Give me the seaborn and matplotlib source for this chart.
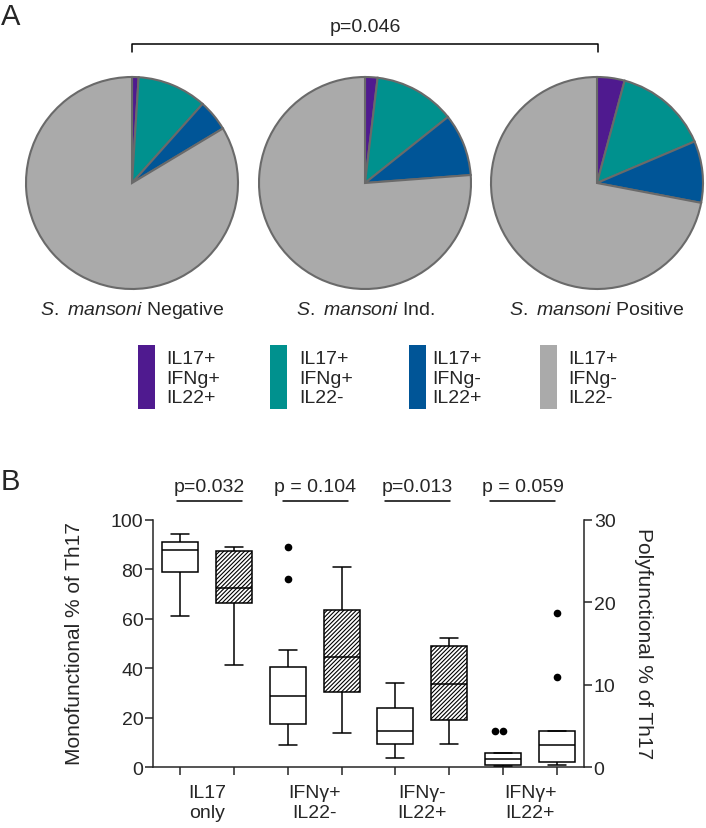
import matplotlib
matplotlib.use("Agg")
import matplotlib.pyplot as plt
import numpy as np
import pandas as pd
import seaborn as sns
from matplotlib.patches import Rectangle

# ---- panel A: Th17 subset shares per S. mansoni status ----
subset_labels = ["IL17+\nIFNg+\nIL22+", "IL17+\nIFNg+\nIL22-",
                 "IL17+\nIFNg-\nIL22+", "IL17+\nIFNg-\nIL22-"]
subset_colors = ["#4f1a8f", "#00918e", "#005597", "#aaaaaa"]
pie_titles = [r"$\it{S.\ mansoni}$ Negative", r"$\it{S.\ mansoni}$ Ind.",
              r"$\it{S.\ mansoni}$ Positive"]
pie_negative = [1.0, 10.6, 4.8, 83.6]
pie_ind = [1.9, 12.4, 9.5, 76.2]
pie_positive = [4.2, 14.4, 9.4, 72.0]
p_pies = "p=0.046"

# ---- panel B: monofunctional (left axis) / polyfunctional (right axis) ----
group_labels = ["IL17\nonly", "IFNγ+\nIL22-", "IFNγ-\nIL22+", "IFNγ+\nIL22+"]
p_values = ["p=0.032", "p = 0.104", "p=0.013", "p = 0.059"]
il17_neg = [61.1, 72.5, 78.9, 84.0, 87.8, 89.6, 90.8, 92.7, 94.2]
il17_pos = [41.5, 58.0, 66.5, 70.1, 72.3, 80.4, 87.2, 88.3, 89.1]
ifng_il22n_neg = [9.0, 12.6, 15.2, 17.4, 21.0, 25.3, 28.7, 33.0, 37.1, 40.6, 47.5, 76.0, 89.1]
ifng_il22n_pos = [13.7, 22.0, 30.6, 38.9, 44.4, 55.2, 63.5, 72.8, 81.0]
il22_neg = [3.8, 6.9, 9.4, 12.1, 14.8, 19.5, 23.8, 28.6, 33.9]
il22_pos = [9.3, 14.6, 19.2, 27.0, 33.5, 41.8, 49.1, 50.7, 52.2]
poly_neg = [0.20, 0.25, 0.28, 0.62, 1.01, 1.38, 1.70, 4.36, 4.36]
poly_pos = [0.32, 0.50, 0.69, 1.60, 2.70, 3.60, 4.44, 10.9, 18.7]

slots = ["il17_neg", "il17_pos", "ifng_neg", "ifng_pos",
         "il22_neg", "il22_pos", "poly_neg", "poly_pos"]
left_data = {"il17_neg": il17_neg, "il17_pos": il17_pos,
             "ifng_neg": ifng_il22n_neg, "ifng_pos": ifng_il22n_pos,
             "il22_neg": il22_neg, "il22_pos": il22_pos}
right_data = {"poly_neg": poly_neg, "poly_pos": poly_pos}
hatched = ["il17_pos", "ifng_pos", "il22_pos"]


def long_frame(d):
    rows = [(k, v) for k, vals in d.items() for v in vals]
    return pd.DataFrame(rows, columns=["slot", "value"])


def outliers(d):
    rows = []
    for k, vals in d.items():
        q1, q3 = np.percentile(vals, [25, 75])
        lo, hi = q1 - 1.5 * (q3 - q1), q3 + 1.5 * (q3 - q1)
        rows += [(k, v) for v in vals if v < lo or v > hi]
    return pd.DataFrame(rows, columns=["slot", "value"])


sns.set_style("ticks")
plt.rcParams["font.family"] = ["Liberation Sans", "DejaVu Sans"]
plt.rcParams["mathtext.fontset"] = "custom"
plt.rcParams["mathtext.rm"] = "Liberation Sans"
plt.rcParams["mathtext.it"] = "Liberation Sans:italic"
plt.rcParams["hatch.linewidth"] = 0.8
FS = 14

W, H = 706, 829
fig = plt.figure(figsize=(W / 100, H / 100), dpi=100)


def px_rect(x0, y0, x1, y1):
    return [x0 / W, 1 - y1 / H, (x1 - x0) / W, (y1 - y0) / H]


# pies
pie_centers = [132, 365, 597]
R, pad = 106, 4
for cx, vals in zip(pie_centers, [pie_negative, pie_ind, pie_positive]):
    pa = fig.add_axes(px_rect(cx - R - pad, 184 - R - pad, cx + R + pad, 184 + R + pad))
    pa.pie(vals, colors=subset_colors, startangle=90, counterclock=False,
           wedgeprops=dict(edgecolor="#6a6a6a", linewidth=1.5))
    lim = (R + pad) / R
    pa.set_xlim(-lim, lim)
    pa.set_ylim(-lim, lim)
    pa.set_aspect("auto")

# boxes
ax = fig.add_axes(px_rect(153, 520.7, 584, 768.3))
ax2 = ax.twinx()
box_kw = dict(x="slot", y="value", order=slots, color="white", saturation=1,
              linecolor="black", linewidth=1.1, width=0.67, showfliers=False)
sns.boxplot(data=long_frame(left_data), ax=ax, **box_kw)
for patch, slot in zip(ax.patches, left_data.keys()):
    if slot in hatched:
        patch.set_hatch("////////")
sns.boxplot(data=long_frame(right_data), ax=ax2, **box_kw)
sw_kw = dict(x="slot", y="value", order=slots, color="black", size=5.5)
sns.swarmplot(data=outliers(left_data), ax=ax, **sw_kw)
sns.swarmplot(data=outliers(right_data), ax=ax2, **sw_kw)

ax.set_xlim(-0.5, len(slots) - 0.5)
ax.set_ylim(0, 100)
ax2.set_ylim(0, 30)
ax.set_yticks(np.arange(0, 101, 20))
ax2.set_yticks(np.arange(0, 31, 10))
ax.set_xticks(np.arange(len(slots)))
ax.set_xticklabels([])
ax.set_xticks(np.arange(0.5, len(slots), 2), minor=True)
ax.set_xticklabels(group_labels, minor=True, fontsize=FS, linespacing=1.2)
ax.tick_params(axis="x", which="major", length=6, width=1.1, direction="out")
ax.tick_params(axis="x", which="minor", length=0, pad=12)
ax.tick_params(axis="y", length=6, width=1.1, pad=1, labelsize=FS)
ax2.tick_params(axis="y", length=6, width=1.1, pad=1, labelsize=FS)
ax.set_xlabel("")
ax.set_ylabel("")
ax2.set_xlabel("")
ax2.set_ylabel("")
for a in (ax, ax2):
    a.spines["top"].set_visible(False)
    for s in a.spines.values():
        s.set_linewidth(1.1)
ax.spines["right"].set_visible(False)
ax2.spines["left"].set_visible(False)
ax2.spines["bottom"].set_visible(False)

# overlay in pixel coordinates for annotations
ov = fig.add_axes([0, 0, 1, 1])
ov.set_xlim(0, W)
ov.set_ylim(H, 0)
ov.axis("off")
ov.text(1, 25, "A", fontsize=21, va="baseline")
ov.text(1, 490, "B", fontsize=21, va="baseline")
ov.plot([132, 132, 598, 598], [53, 45, 45, 53], color="black", lw=1.1)
ov.text(365, 27, p_pies, fontsize=FS, ha="center", va="center")
for cx, t in zip(pie_centers, pie_titles):
    ov.text(cx, 310, t, fontsize=FS, ha="center", va="center")
for bx, tx, col, lab in zip([138, 270, 409, 540], [166, 299, 432, 568],
                            subset_colors, subset_labels):
    ov.add_patch(Rectangle((bx, 346), 17, 64, color=col, lw=0))
    ov.text(tx, 379, lab, fontsize=FS, ha="left", va="center", linespacing=1.2)
for cx, t in zip([209.5, 315.5, 417.5, 522.5], p_values):
    ov.text(cx, 488, t, fontsize=FS, ha="center", va="center")
    ov.plot([cx - 32.5, cx + 32.5], [502, 502], color="black", lw=1.1)
ov.text(74, 644, "Monofunctional % of Th17", fontsize=15, rotation=90,
        ha="center", va="center")
ov.text(644, 644, "Polyfunctional % of Th17", fontsize=15, rotation=270,
        ha="center", va="center")

fig.savefig("out.png", dpi=100)
